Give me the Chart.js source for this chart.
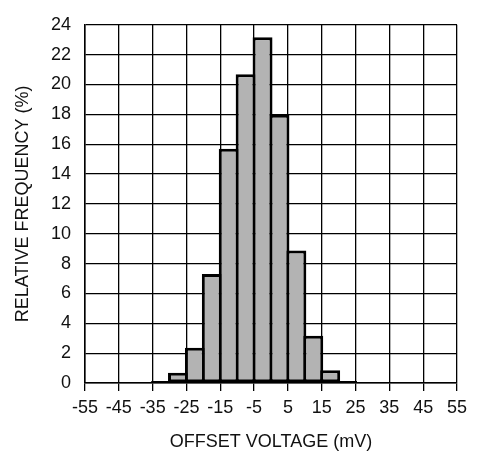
<!DOCTYPE html>
<html lang="en">
<head>
  <meta charset="UTF-8">
  <title>Offset Voltage Histogram</title>
  <script src="https://cdn.jsdelivr.net/npm/chart.js"></script>
  <style>
    * {
      box-sizing: border-box;
      margin: 0;
      padding: 0;
    }

    body {
      background: #fff;
      width: 478px;
      height: 455px;
      overflow: hidden;
    }

    .wrap {
      position: relative;
      width: 478px;
      height: 455px;
    }
  </style>
</head>
<body>
  <div class="wrap">
    <canvas id="histChart" width="478" height="455"></canvas>
  </div>

  <script>
    // bin centres in mV (each bin is 5 mV wide)
    const binCenters = [-32.5, -27.5, -22.5, -17.5, -12.5, -7.5, -2.5, 2.5, 7.5, 12.5, 17.5, 22.5];
    // relative frequency in %
    const frequency = [0.13, 0.69, 2.36, 7.3, 15.7, 20.68, 23.17, 17.97, 8.87, 3.17, 0.85, 0.13];

    const xMin = -55, xMax = 55, xStep = 10;
    const yMin = 0, yMax = 24, yStep = 2;

    const fontFamily = "'Liberation Sans', Arial, sans-serif";
    const fontSize = 18;
    const textColor = "#111";

    const points = binCenters.map((x, i) => ({ x: x, y: frequency[i] }));

    new Chart(document.getElementById("histChart"), {
      type: "bar",
      data: {
        datasets: [{
          label: "Relative frequency",
          data: points,
          backgroundColor: "#b3b3b3",
          borderColor: "#000",
          borderWidth: 3,
          borderSkipped: false,
          barPercentage: 1.18,
          categoryPercentage: 1.0
        }]
      },
      options: {
        responsive: false,
        animation: false,
        layout: {
          padding: { left: 0, top: 14, right: 21, bottom: 0 }
        },
        plugins: {
          legend: { display: false },
          tooltip: { enabled: false }
        },
        scales: {
          x: {
            type: "linear",
            min: xMin,
            max: xMax,
            offset: false,
            afterFit: (scale) => { scale.height = 72; },
            ticks: {
              stepSize: xStep,
              color: textColor,
              font: { family: fontFamily, size: fontSize },
              padding: 6,
              maxRotation: 0,
              autoSkip: false
            },
            grid: {
              offset: false,
              color: "#000",
              lineWidth: 1.3,
              drawTicks: true,
              tickLength: 8
            },
            border: { color: "#000", width: 1.5 },
            title: {
              display: true,
              text: "OFFSET VOLTAGE (mV)",
              color: textColor,
              font: { family: fontFamily, size: fontSize },
              padding: { top: 0, bottom: 2 }
            }
          },
          y: {
            min: yMin,
            max: yMax,
            afterFit: (scale) => { scale.width = 85; },
            ticks: {
              stepSize: yStep,
              color: textColor,
              font: { family: fontFamily, size: fontSize },
              padding: 14
            },
            grid: {
              color: "#000",
              lineWidth: 1.3,
              drawTicks: false
            },
            border: { color: "#000", width: 1.5 },
            title: {
              display: true,
              text: "RELATIVE FREQUENCY (%)",
              color: textColor,
              font: { family: fontFamily, size: fontSize },
              padding: { top: 12, bottom: 0 }
            }
          }
        }
      }
    });
  </script>
</body>
</html>
